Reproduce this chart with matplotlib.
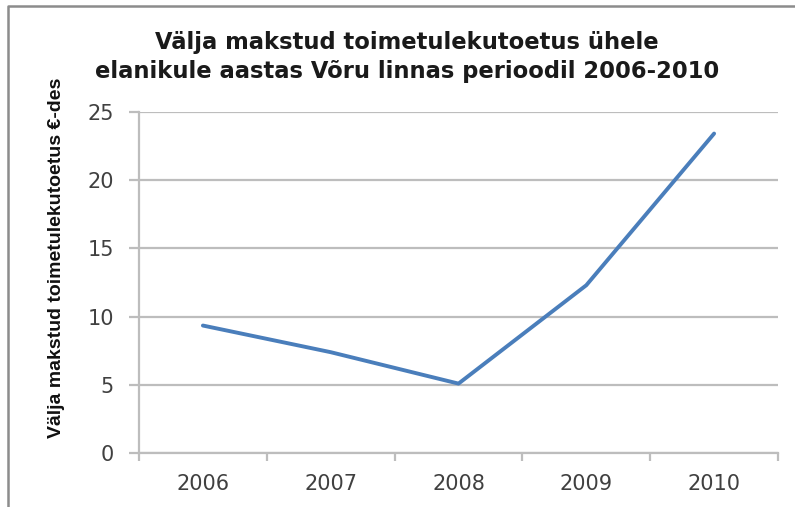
import matplotlib.pyplot as plt
from matplotlib.lines import Line2D

years = ['2006', '2007', '2008', '2009', '2010']
toetus = [9.35, 7.4, 5.1, 12.3, 23.4]
y_ticks = [0, 5, 10, 15, 20, 25]

title = 'Välja makstud toimetulekutoetus ühele\nelanikule aastas Võru linnas perioodil 2006-2010'
ylabel = 'Välja makstud toimetulekutoetus €-des'

grid_col = '#BDBDBD'
text_col = '#404040'

fig = plt.figure(figsize=(7.95, 5.07), dpi=100)
ax = fig.add_axes([139 / 795, 1 - 453.3 / 507, 639 / 795, 341.6 / 507])

x = [i + 0.5 for i in range(len(years))]
ax.plot(x, toetus, color='#4A7EBB', lw=2.8, solid_joinstyle='round', solid_capstyle='round', zorder=3)

ax.set_xlim(0, len(years))
ax.set_ylim(0, 25)
ax.set_yticks(y_ticks)
ax.set_yticklabels([str(v) for v in y_ticks], fontsize=15, color=text_col, family='DejaVu Sans')

# category boundaries get tick marks, labels sit in the middle
ax.set_xticks(range(len(years) + 1))
ax.set_xticklabels([''] * (len(years) + 1))
ax.set_xticks(x, minor=True)
ax.set_xticklabels(years, minor=True, fontsize=15, color=text_col, family='DejaVu Sans')
ax.tick_params(axis='x', which='minor', length=0, pad=15)
ax.tick_params(axis='x', which='major', length=6, width=1.6, color=grid_col, direction='out')
ax.tick_params(axis='y', length=7, width=1.6, color=grid_col, direction='out', pad=11)

ax.yaxis.grid(True, color=grid_col, lw=1.6)
ax.set_axisbelow(True)
for s in ['top', 'right']:
    ax.spines[s].set_visible(False)
for s in ['left', 'bottom']:
    ax.spines[s].set_color(grid_col)
    ax.spines[s].set_linewidth(1.6)

fig.text(407 / 795, 1 - 57 / 507, title, ha='center', va='center', fontsize=16.3,
         fontweight='bold', color='#1a1a1a', linespacing=1.3, family='DejaVu Sans')
fig.text(57 / 795, 1 - 258 / 507, ylabel, rotation=90, ha='center', va='center',
         fontsize=14, fontweight='bold', color='#111111',
         family=['Liberation Sans', 'DejaVu Sans'])

# outer chart frame (only left and top edges are visible)
fig.add_artist(Line2D([7.5 / 795, 7.5 / 795, 1], [0, 1 - 6 / 507, 1 - 6 / 507],
                      transform=fig.transFigure, color='#8c8c8c', lw=1.8))

fig.savefig('out.png', dpi=100)
